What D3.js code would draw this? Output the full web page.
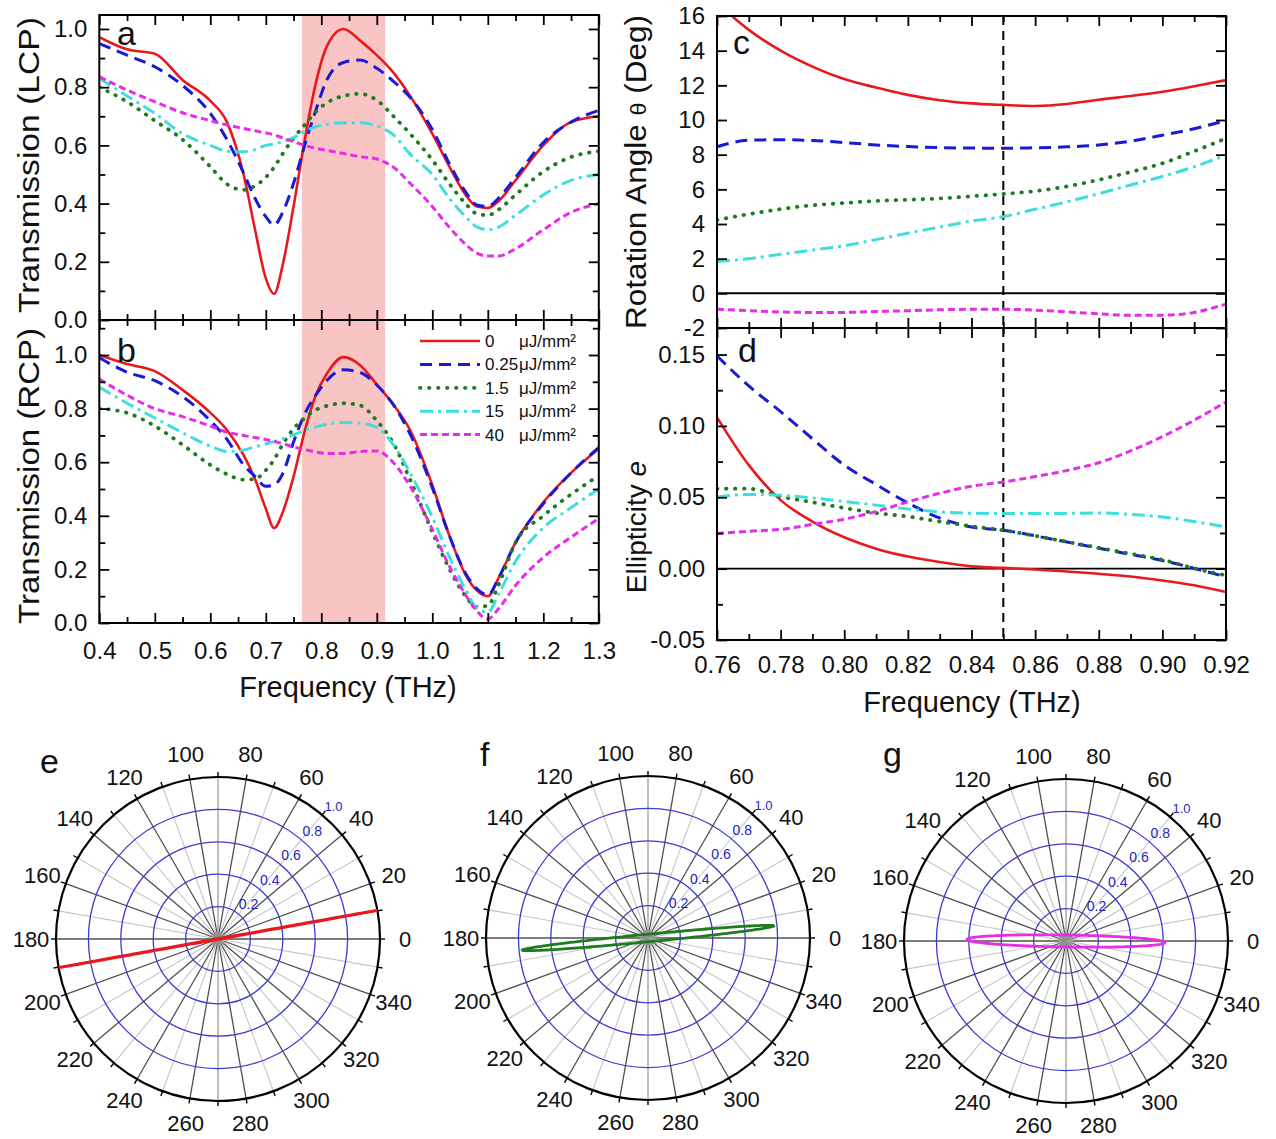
<!DOCTYPE html>
<html><head><meta charset="utf-8">
<script src="https://cdn.jsdelivr.net/npm/d3@7"></script>
<style>
body{margin:0;background:#fff}
svg{display:block}
text{font-family:"Liberation Sans",Arial,Helvetica,sans-serif;fill:#111}
</style>
</head><body>
<svg id="chart" width="1276" height="1139"></svg>
<script>
// ---------- DATA ----------
const seriesLabels = ["0", "0.25", "1.5", "15", "40"];
const seriesUnit = "\u03bcJ/mm\u00b2";
const seriesColors = ["#e8191c", "#1a1ad6", "#1e7b1e", "#3fdede", "#e62ee6"];

const abFreq = [0.40,0.45,0.50,0.55,0.60,0.63,0.66,0.68,0.70,0.715,0.73,0.75,0.77,0.79,0.81,0.84,0.87,0.90,0.93,0.96,1.00,1.03,1.06,1.08,1.10,1.12,1.15,1.20,1.25,1.30];

const lcp0   = [0.972,0.93,0.915,0.825,0.753,0.68,0.50,0.316,0.143,0.09,0.185,0.39,0.617,0.813,0.94,1.0,0.96,0.91,0.85,0.77,0.64,0.53,0.43,0.39,0.385,0.41,0.48,0.60,0.68,0.70];
const lcp025 = [0.95,0.91,0.87,0.806,0.71,0.62,0.505,0.42,0.355,0.326,0.368,0.47,0.60,0.72,0.825,0.885,0.893,0.865,0.82,0.765,0.655,0.54,0.44,0.395,0.39,0.42,0.49,0.61,0.68,0.72];
const lcp15  = [0.80,0.75,0.685,0.62,0.527,0.467,0.447,0.46,0.49,0.525,0.57,0.625,0.67,0.715,0.746,0.77,0.777,0.755,0.70,0.64,0.55,0.47,0.40,0.365,0.36,0.38,0.43,0.51,0.56,0.58];
const lcp150 = [0.83,0.77,0.71,0.64,0.60,0.58,0.578,0.585,0.60,0.605,0.612,0.627,0.648,0.664,0.672,0.678,0.678,0.667,0.636,0.57,0.50,0.42,0.355,0.32,0.31,0.32,0.36,0.43,0.48,0.50];
const lcp400 = [0.836,0.79,0.75,0.712,0.685,0.67,0.658,0.65,0.643,0.636,0.626,0.613,0.60,0.59,0.583,0.572,0.561,0.553,0.525,0.47,0.39,0.32,0.26,0.23,0.22,0.22,0.245,0.31,0.37,0.40];

const rcp0   = [1.0,0.966,0.94,0.87,0.785,0.72,0.626,0.54,0.427,0.354,0.41,0.546,0.715,0.85,0.93,0.992,0.962,0.89,0.815,0.72,0.515,0.33,0.18,0.122,0.10,0.17,0.30,0.45,0.56,0.65];
const rcp025 = [0.99,0.936,0.904,0.845,0.755,0.685,0.59,0.548,0.51,0.515,0.555,0.675,0.78,0.85,0.905,0.945,0.935,0.888,0.814,0.705,0.505,0.33,0.185,0.128,0.105,0.17,0.30,0.445,0.56,0.655];
const rcp15  = [0.80,0.784,0.735,0.665,0.59,0.555,0.535,0.537,0.57,0.61,0.665,0.725,0.765,0.795,0.81,0.82,0.812,0.755,0.67,0.535,0.34,0.205,0.10,0.06,0.065,0.145,0.30,0.40,0.48,0.55];
const rcp150 = [0.88,0.82,0.765,0.71,0.66,0.64,0.645,0.657,0.668,0.677,0.687,0.702,0.718,0.732,0.742,0.748,0.746,0.73,0.665,0.56,0.395,0.25,0.125,0.055,0.04,0.11,0.23,0.355,0.43,0.50];
const rcp400 = [0.91,0.85,0.80,0.77,0.735,0.712,0.70,0.692,0.685,0.677,0.67,0.657,0.647,0.638,0.632,0.632,0.64,0.642,0.598,0.51,0.35,0.215,0.105,0.045,0.015,0.055,0.14,0.245,0.32,0.39];

const cdFreq = [0.76,0.77,0.78,0.79,0.80,0.81,0.82,0.83,0.84,0.85,0.86,0.87,0.88,0.89,0.90,0.91,0.92];
const rot0   = [16.75,15.2,14.0,13.08,12.36,11.87,11.45,11.14,10.96,10.87,10.81,10.92,11.17,11.38,11.63,11.95,12.3];
const rot025 = [8.46,8.83,8.86,8.82,8.7,8.56,8.47,8.41,8.38,8.37,8.4,8.45,8.56,8.78,9.12,9.5,9.96];
const rot15  = [4.23,4.57,4.86,5.08,5.21,5.33,5.4,5.47,5.6,5.73,5.9,6.17,6.55,7.0,7.5,8.2,8.94];
const rot150 = [1.83,2.0,2.25,2.5,2.74,3.1,3.47,3.82,4.17,4.42,4.85,5.28,5.75,6.25,6.74,7.3,7.98];
const rot400 = [-0.92,-1.0,-1.08,-1.1,-1.1,-1.05,-1.0,-0.95,-0.92,-0.92,-0.97,-1.07,-1.18,-1.27,-1.26,-1.1,-0.62];

const ell0   = [0.106,0.0725,0.048,0.033,0.022,0.014,0.0085,0.0047,0.0016,0.0005,-0.0006,-0.002,-0.0036,-0.0055,-0.0083,-0.0117,-0.0164];
const ell025 = [0.149,0.128,0.11,0.091,0.0725,0.059,0.046,0.0355,0.0292,0.0269,0.023,0.0186,0.0143,0.010,0.0057,0.0002,-0.0058];
const ell15  = [0.056,0.056,0.0505,0.0465,0.0425,0.039,0.0365,0.033,0.0297,0.0269,0.023,0.0188,0.0146,0.0105,0.0062,0.0002,-0.0047];
const ell150 = [0.0502,0.052,0.0514,0.0495,0.047,0.0445,0.0418,0.0398,0.0388,0.0386,0.0386,0.0387,0.039,0.038,0.0362,0.033,0.0292];
const ell400 = [0.0245,0.0262,0.0275,0.031,0.0347,0.040,0.0468,0.0528,0.0577,0.0607,0.0645,0.0688,0.0742,0.0825,0.0925,0.104,0.1168];

const shadeRange = [0.765, 0.915];
const markFreq = 0.85;

const abXTicks = [0.4,0.5,0.6,0.7,0.8,0.9,1.0,1.1,1.2,1.3];
const abXMinor = [0.45,0.55,0.65,0.75,0.85,0.95,1.05,1.15,1.25];
const abYTicks = [0,0.2,0.4,0.6,0.8,1.0];
const abYMinor = [0.1,0.3,0.5,0.7,0.9,1.1];
const cdXTicks = [0.76,0.78,0.80,0.82,0.84,0.86,0.88,0.90,0.92];
const cdXMinor = [0.77,0.79,0.81,0.83,0.85,0.87,0.89,0.91];
const cYTicks = [-2,0,2,4,6,8,10,12,14,16];
const dYTicks = [-0.05,0,0.05,0.10,0.15];
const dYMinor = [-0.025,0.025,0.075,0.125];

// polar panels e,f,g
const polarNames = ["e", "f", "g"];
const polarSeries = [0, 2, 4];            // which fluence each ellipse belongs to
const polarAmp = [1.0, 0.78, 0.61];
const polarAngle = [10.2, 5.5, -0.9];      // degrees
const polarEll = [0.001, 0.03, 0.061];
const polarRings = [0.2, 0.4, 0.6, 0.8];
const polarRingLabels = ["0.2", "0.4", "0.6", "0.8", "1.0"];
const polarAngleLabels = d3.range(0, 360, 20);

// ---------- DRAWING ----------
const svg = d3.select("#chart");
const seriesDash = [null, "12,7", "0.5,8.5", "13,5,3,5", "7,4"];
const seriesWidth = [2.6, 3, 3.8, 3, 3];
const seriesCap = ["butt", "butt", "round", "butt", "butt"];
let clipId = 0;

function panel(o) {
  const x = d3.scaleLinear(o.xd, [o.left, o.right]);
  const y = d3.scaleLinear(o.yd, [o.bottom, o.top]);
  const g = svg.append("g");
  const id = "clip" + (clipId++);
  g.append("clipPath").attr("id", id).append("rect")
    .attr("x", o.left).attr("y", o.top).attr("width", o.right - o.left).attr("height", o.bottom - o.top);
  const under = g.append("g").attr("clip-path", `url(#${id})`);
  const plot = g.append("g").attr("clip-path", `url(#${id})`);
  const axes = g.append("g");
  const add = (axis, tr) => {
    const a = axes.append("g").attr("transform", tr).call(axis);
    a.select(".domain").remove();
    a.selectAll("line").attr("stroke", "#000").attr("stroke-width", 1.8);
    a.selectAll("text").style("font-size", "24px").attr("fill", "#111")
      .style("font-family", '"Liberation Sans",Arial,sans-serif');
    return a;
  };
  add(d3.axisBottom(x).tickValues(o.xMajor).tickSize(-10).tickPadding(o.xPad || 19)
      .tickFormat(o.xFmt || (() => "")), `translate(0,${o.bottom})`);
  add(d3.axisBottom(x).tickValues(o.xMinor || []).tickSize(-6).tickFormat(() => ""), `translate(0,${o.bottom})`);
  add(d3.axisTop(x).tickValues(o.xMajor).tickSize(-10).tickFormat(() => ""), `translate(0,${o.top})`);
  add(d3.axisTop(x).tickValues(o.xMinor || []).tickSize(-6).tickFormat(() => ""), `translate(0,${o.top})`);
  add(d3.axisLeft(y).tickValues(o.yMajor).tickSize(-10).tickPadding(12).tickFormat(o.yFmt), `translate(${o.left},0)`);
  add(d3.axisLeft(y).tickValues(o.yMinor || []).tickSize(-6).tickFormat(() => ""), `translate(${o.left},0)`);
  add(d3.axisRight(y).tickValues(o.yMajor).tickSize(-10).tickFormat(() => ""), `translate(${o.right},0)`);
  add(d3.axisRight(y).tickValues(o.yMinor || []).tickSize(-6).tickFormat(() => ""), `translate(${o.right},0)`);
  axes.append("rect").attr("x", o.left).attr("y", o.top).attr("width", o.right - o.left)
    .attr("height", o.bottom - o.top).attr("fill", "none").attr("stroke", "#000").attr("stroke-width", 2);
  if (o.letter) {
    axes.append("text").attr("x", o.letter[0]).attr("y", o.letter[1]).text(o.letter[2])
      .style("font-size", "34px");
  }
  return {x, y, under, plot, axes};
}

function drawSeries(p, xs, seriesList) {
  const line = d3.line().x(d => p.x(d[0])).y(d => p.y(d[1])).curve(d3.curveMonotoneX);
  seriesList.forEach((vals, i) => {
    p.plot.append("path").datum(d3.zip(xs, vals)).attr("d", line)
      .attr("fill", "none").attr("stroke", seriesColors[i]).attr("stroke-width", seriesWidth[i])
      .attr("stroke-dasharray", seriesDash[i]).attr("stroke-linecap", seriesCap[i])
      .attr("stroke-linejoin", "round");
  });
}

function rotLabel(x, y, size, len) {
  const t = svg.append("text").attr("transform", `translate(${x},${y}) rotate(-90)`)
    .attr("text-anchor", "middle").style("font-size", size + "px");
  if (len) t.attr("textLength", len).attr("lengthAdjust", "spacingAndGlyphs");
  return t;
}

const fmt1 = d => d.toFixed(1);

// Panel a
const pa = panel({left: 99.3, right: 598.8, top: 15, bottom: 320, xd: [0.4, 1.3], yd: [0, 1.048],
  xMajor: abXTicks, xMinor: abXMinor, yMajor: abYTicks, yMinor: abYMinor.filter(v => v < 1.048),
  yFmt: fmt1, letter: [117, 45, "a"]});
pa.under.append("rect").attr("x", pa.x(shadeRange[0])).attr("y", 15)
  .attr("width", pa.x(shadeRange[1]) - pa.x(shadeRange[0])).attr("height", 305).attr("fill", "#f8c4c4");
drawSeries(pa, abFreq, [lcp0, lcp025, lcp15, lcp150, lcp400]);

// Panel b
const pb = panel({left: 99.3, right: 598.8, top: 320, bottom: 623, xd: [0.4, 1.3], yd: [0, 1.1306],
  xMajor: abXTicks, xMinor: abXMinor, yMajor: abYTicks, yMinor: abYMinor,
  yFmt: fmt1, xFmt: fmt1, xPad: 19, letter: [117, 362, "b"]});
pb.under.append("rect").attr("x", pb.x(shadeRange[0])).attr("y", 320)
  .attr("width", pb.x(shadeRange[1]) - pb.x(shadeRange[0])).attr("height", 303).attr("fill", "#f8c4c4");
drawSeries(pb, abFreq, [rcp0, rcp025, rcp15, rcp150, rcp400]);

// legend in b
const lg = pb.axes.append("g");
seriesLabels.forEach((lab, i) => {
  const yy = 341 + i * 23.4;
  lg.append("line").attr("x1", 420).attr("x2", 480).attr("y1", yy).attr("y2", yy)
    .attr("stroke", seriesColors[i]).attr("stroke-width", seriesWidth[i])
    .attr("stroke-dasharray", seriesDash[i]).attr("stroke-linecap", seriesCap[i]);
  lg.append("text").attr("x", 485).attr("y", yy + 6).text(lab).style("font-size", "17px");
  lg.append("text").attr("x", 519).attr("y", yy + 6).text(seriesUnit).style("font-size", "17px");
});

rotLabel(39, 165, 30, 296).text("Transmission (LCP)");
rotLabel(39, 476, 30, 296).text("Transmission (RCP)");
svg.append("text").attr("x", 348).attr("y", 697).attr("text-anchor", "middle")
  .style("font-size", "29px").text("Frequency (THz)");

// Panel c
const pc = panel({left: 717, right: 1226, top: 16, bottom: 328, xd: [0.76, 0.92], yd: [-2, 16],
  xMajor: cdXTicks, xMinor: cdXMinor, yMajor: cYTicks, yMinor: [],
  yFmt: d => String(d), letter: [733, 54, "c"]});
pc.under.append("line").attr("x1", 717).attr("x2", 1226).attr("y1", pc.y(0)).attr("y2", pc.y(0))
  .attr("stroke", "#000").attr("stroke-width", 2);
pc.under.append("line").attr("x1", pc.x(markFreq)).attr("x2", pc.x(markFreq)).attr("y1", 16).attr("y2", 328)
  .attr("stroke", "#000").attr("stroke-width", 2).attr("stroke-dasharray", "9,6");
drawSeries(pc, cdFreq, [rot0, rot025, rot15, rot150, rot400]);

// Panel d
const pd = panel({left: 717, right: 1226, top: 328, bottom: 640, xd: [0.76, 0.92], yd: [-0.05, 0.1686],
  xMajor: cdXTicks, xMinor: cdXMinor, yMajor: dYTicks, yMinor: dYMinor,
  yFmt: d => d.toFixed(2), xFmt: d => d.toFixed(2), xPad: 16, letter: [738, 362, "d"]});
pd.under.append("line").attr("x1", 717).attr("x2", 1226).attr("y1", pd.y(0)).attr("y2", pd.y(0))
  .attr("stroke", "#000").attr("stroke-width", 1.6);
pd.under.append("line").attr("x1", pd.x(markFreq)).attr("x2", pd.x(markFreq)).attr("y1", 328).attr("y2", 640)
  .attr("stroke", "#000").attr("stroke-width", 2).attr("stroke-dasharray", "9,6");
drawSeries(pd, cdFreq, [ell0, ell025, ell15, ell150, ell400]);

const rl = rotLabel(646, 172, 30, 314);
rl.append("tspan").text("Rotation Angle ");
rl.append("tspan").text("\u03b8").style("font-size", "22px");
rl.append("tspan").text(" (Deg)");
const el = rotLabel(646, 527, 28, null);
el.append("tspan").text("Ellipticity ");
el.append("tspan").text("e").style("font-style", "italic");
svg.append("text").attr("x", 972).attr("y", 712).attr("text-anchor", "middle")
  .style("font-size", "29px").text("Frequency (THz)");

// ---------- Polar panels ----------
const polarCenters = [[218, 939], [648, 938], [1066, 941]];
const R = 162;
const letterPos = [[40, 773], [480, 766], [883, 766]];
const deg = Math.PI / 180;

polarNames.forEach((name, k) => {
  const [cx, cy] = polarCenters[k];
  const r = d3.scaleLinear([0, 1], [0, R]);
  const g = svg.append("g").attr("transform", `translate(${cx},${cy})`);
  // spokes
  d3.range(0, 360, 10).forEach(a => {
    const dark = a % 20 === 0;
    g.append("line").attr("x1", 0).attr("y1", 0)
      .attr("x2", r(1) * Math.cos(a * deg)).attr("y2", -r(1) * Math.sin(a * deg))
      .attr("stroke", dark ? "#505050" : (a % 90 === 0 ? "#8a8a8a" : "#c6c6c6"))
      .attr("stroke-width", dark ? 1.3 : 1.1);
    g.append("line")
      .attr("x1", r(1) * Math.cos(a * deg)).attr("y1", -r(1) * Math.sin(a * deg))
      .attr("x2", (r(1) + 5) * Math.cos(a * deg)).attr("y2", -(r(1) + 5) * Math.sin(a * deg))
      .attr("stroke", "#000").attr("stroke-width", 1.4);
  });
  g.append("circle").attr("r", 8).attr("fill", "#9a9a9a").attr("opacity", 0.6);
  // rings
  polarRings.forEach(v => {
    g.append("circle").attr("r", r(v)).attr("fill", "none").attr("stroke", "#3b3bd0").attr("stroke-width", 1.3);
  });
  g.append("circle").attr("r", r(1)).attr("fill", "none").attr("stroke", "#000").attr("stroke-width", 2.2);
  // ring labels
  polarRingLabels.forEach(lab => {
    const v = +lab;
    const rr = r(v) + 14;
    g.append("text").attr("x", rr * Math.cos(49 * deg)).attr("y", -rr * Math.sin(49 * deg) + 5)
      .attr("text-anchor", "middle").style("font-size", v === 1 ? "13px" : "14px")
      .style("fill", "#2424c8").text(lab);
  });
  // angle labels
  polarAngleLabels.forEach(a => {
    const rr = 187;
    g.append("text").attr("x", rr * Math.cos(a * deg)).attr("y", -rr * Math.sin(a * deg))
      .attr("text-anchor", "middle").attr("dominant-baseline", "central")
      .style("font-size", "22px").text(String(a));
  });
  // polarization ellipse
  const amp = polarAmp[k], th = polarAngle[k] * deg, b = amp * polarEll[k];
  const pts = d3.range(0, 361, 2).map(t => {
    const xx = amp * Math.cos(t * deg), yy = b * Math.sin(t * deg);
    const X = xx * Math.cos(th) - yy * Math.sin(th), Y = xx * Math.sin(th) + yy * Math.cos(th);
    return [Math.atan2(Y, X), Math.hypot(X, Y)];
  });
  const lr = d3.lineRadial().angle(d => Math.PI / 2 - d[0]).radius(d => r(d[1])).curve(d3.curveLinearClosed);
  g.append("path").datum(pts).attr("d", lr).attr("fill", "none")
    .attr("stroke", seriesColors[polarSeries[k]])
    .attr("stroke-width", k === 0 ? 3 : 2.8);
  svg.append("text").attr("x", letterPos[k][0]).attr("y", letterPos[k][1]).style("font-size", "34px").text(name);
});
</script>
</body></html>
